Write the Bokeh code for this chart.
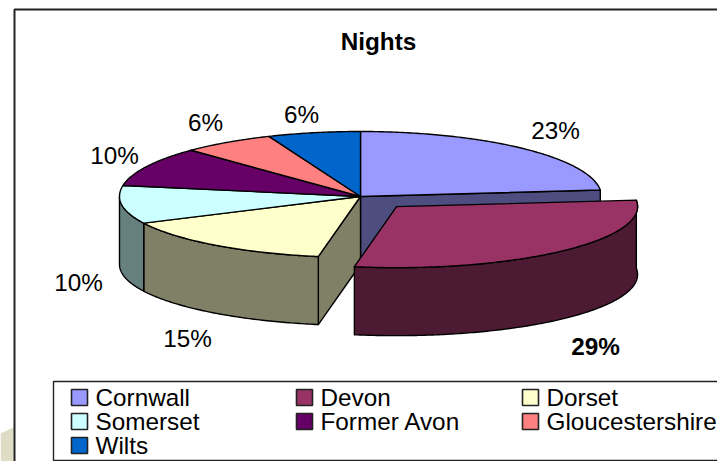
import math
from bokeh.plotting import figure
from bokeh.models import Range1d
from bokeh.core.properties import value
from bokeh.embed import file_html
from bokeh.resources import INLINE

# ---- data ----
title_text = "Nights"
categories = ["Cornwall", "Devon", "Dorset", "Somerset", "Former Avon", "Gloucestershire", "Wilts"]
shares = [23.4, 29.4, 15.0, 9.9, 9.9, 6.2, 6.2]
pct_labels = ["23%", "29%", "15%", "10%", "10%", "6%", "6%"]
top_colors = ["#9999FF", "#993366", "#FFFFCC", "#CCFFFF", "#660066", "#FF8080", "#0066CC"]
side_colors = ["#4D4D80", "#4D1A33", "#808066", "#668080", "#330033", "#804040", "#003366"]
exploded = [False, True, False, False, False, False, False]

# ---- layout ----
CX, CY = 360.0, 196.0
RX, RY_BACK, RY_FRONT = 241.0, 65.0, 61.0
DEPTH = 68.0
EXPLODE = 0.22
label_pos = [(555, 130), (595, 346), (187, 338), (78, 282), (114, 155), (205, 122), (301, 114)]
label_bold = [False, True, False, False, False, False, False]
FONT = value("Liberation Sans")
SIZE = "24.3px"

p = figure(width=717, height=461, x_range=Range1d(0, 717), y_range=Range1d(461, 0),
           output_backend="svg", toolbar_location=None, min_border=0,
           outline_line_color=None, background_fill_color="white",
           border_fill_color="white")
p.axis.visible = False
p.grid.visible = False

# page decorations
p.patch([0, 13, 13, 0], [433, 427, 461, 461], fill_color="#DEDCC5", line_color=None)
p.line([14, 14, 717], [461, 9, 9], line_color="#222222", line_width=2)


def rim(cx, cy, th, dy=0.0):
    r = math.radians(th)
    c = math.cos(r)
    ry = RY_BACK if c > 0 else RY_FRONT
    return cx + RX * math.sin(r), cy - ry * c + dy


def arc(cx, cy, a, b, dy=0.0):
    n = max(2, int(abs(b - a) * 1.5))
    return [rim(cx, cy, a + (b - a) * i / n, dy) for i in range(n + 1)]


def poly(pts, fill, lw=1.4):
    p.patch([q[0] for q in pts], [q[1] for q in pts], fill_color=fill,
            line_color="black", line_width=lw, line_join="round")


# angular extents from the shares
total = sum(shares)
bounds = []
acc = 0.0
for s in shares:
    bounds.append((acc * 360 / total, (acc + s) * 360 / total))
    acc += s


def center(i):
    if not exploded[i]:
        return CX, CY
    mid = math.radians(sum(bounds[i]) / 2)
    return (CX + EXPLODE * RX * math.sin(mid),
            CY - EXPLODE * (RY_FRONT + RY_BACK) / 2 * math.cos(mid))


def cut_face(i, th, fill):
    cx, cy = center(i)
    x, y = rim(cx, cy, th)
    poly([(cx, cy), (x, y), (x, y + DEPTH), (cx, cy + DEPTH)], fill)


def outer(i):
    cx, cy = center(i)
    a, b = bounds[i]
    a2, b2 = a, min(b, 270)   # the wall past the left extreme is hidden
    if a2 < 90:
        # the wall of the exploded slice starts at its back corner
        a2 = a
    if b2 > a2 and (b > 90):
        poly(arc(cx, cy, a2, b2) + arc(cx, cy, b2, a2, DEPTH), side_colors[i])


def top(i):
    cx, cy = center(i)
    a, b = bounds[i]
    poly([(cx, cy)] + arc(cx, cy, a, b), top_colors[i])


# back to front: walls of non-exploded slices, tops, then the exploded slice
cut_face(0, bounds[0][1], side_colors[0])
cut_face(2, bounds[2][0], side_colors[2])
for i in range(len(shares)):
    if not exploded[i]:
        outer(i)
for i in range(len(shares)):
    if not exploded[i]:
        top(i)
for i in range(len(shares)):
    if exploded[i]:
        outer(i)
        top(i)

# title and percentage labels
p.text([378], [41], text=[title_text], text_font=FONT, text_font_size=SIZE,
       text_font_style="bold", text_align="center", text_baseline="middle", text_color="black")
for (x, y), t, b in zip(label_pos, pct_labels, label_bold):
    p.text([x], [y], text=[t], text_font=FONT, text_font_size=SIZE,
           text_font_style="bold" if b else "normal",
           text_align="center", text_baseline="middle", text_color="black")

# legend
p.line([717, 53, 53, 717], [381, 381, 460, 460], line_color="#222222", line_width=1.4)
col_x = [71, 296, 522]
row_y = [397, 421, 445]
SW = 16
for i, name in enumerate(categories):
    sx = col_x[i % 3]
    sy = row_y[i // 3]
    p.quad(left=[sx], right=[sx + SW], top=[sy - SW / 2], bottom=[sy + SW / 2],
           fill_color=top_colors[i], line_color="#222222", line_width=1.6)
    p.text([sx + SW + 8], [sy], text=[name], text_font=FONT, text_font_size=SIZE,
           text_align="left", text_baseline="middle", text_color="black")

open("out.html", "w").write(file_html(p, INLINE))
